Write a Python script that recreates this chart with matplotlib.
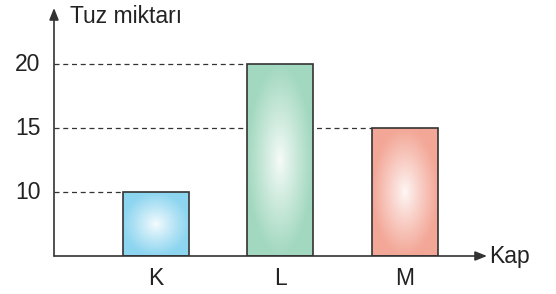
import numpy as np
import matplotlib.pyplot as plt
from matplotlib.patches import Rectangle
from matplotlib.colors import to_rgb

plt.rcParams['font.family'] = ['Liberation Sans', 'DejaVu Sans']

categories = ['K', 'L', 'M']
values = [10, 20, 15]
colors = ['#8dd5f0', '#a2d8bf', '#f3a797']
y_ticks = [10, 15, 20]
y_base = 5

W, H = 556, 294
fig = plt.figure(figsize=(W / 100, H / 100), dpi=100)
ax_l, ax_r, ax_b, ax_t = 54, 487, 256, 8
ax = fig.add_axes([ax_l / W, (H - ax_b) / H, (ax_r - ax_l) / W, (ax_b - ax_t) / H])

x = np.arange(len(categories))
xmin, xmax = -0.82, 2.66
ymax = 24.4
bw = 0.53

# dashed guide lines, bars drawn over them
for i, v in enumerate(values):
    ax.hlines(v, xmin, x[i] - bw / 2, colors='#333333', linestyles=(0, (4, 3)), lw=0.9, zorder=1)

# bars with radial gradient
yy, xx = np.mgrid[-1:1:200j, -1:1:200j]
r = np.clip(np.sqrt(xx ** 2 + yy ** 2), 0, 1)
for i, v in enumerate(values):
    c = np.array(to_rgb(colors[i]))
    t = 0.08 + 0.92 * r[..., None] ** 0.9
    img = (1 - t) * np.ones(3) + t * c
    x0, x1 = x[i] - bw / 2, x[i] + bw / 2
    im = ax.imshow(img, extent=[x0, x1, y_base, v], aspect='auto', zorder=2, interpolation='bilinear')
    rect = Rectangle((x0, y_base), bw, v - y_base, fill=False, ec='#333333', lw=1.2, zorder=3)
    ax.add_patch(rect)
    im.set_clip_path(rect)

ax.set_xlim(xmin, xmax)
ax.set_ylim(y_base, ymax)

for s in ['top', 'right', 'left', 'bottom']:
    ax.spines[s].set_visible(False)
ax.set_xticks([])
ax.set_yticks([])

# axes with arrows
arrow = dict(arrowstyle='-|>,head_length=0.7,head_width=0.28', color='#333333', lw=1.2,
             shrinkA=0, shrinkB=0)
ax.annotate('', xy=(xmax, y_base), xytext=(xmin, y_base), arrowprops=arrow,
            annotation_clip=False, zorder=4)
ax.annotate('', xy=(xmin, ymax), xytext=(xmin, y_base), arrowprops=arrow,
            annotation_clip=False, zorder=4)

fs = 16.5
for v in y_ticks:
    ax.text(xmin - 0.11, v, str(v), ha='right', va='center', fontsize=fs, color='#222222')
for i, c in enumerate(categories):
    ax.text(x[i], y_base - 1.75, c, ha='center', va='center', fontsize=fs, color='#222222')

ax.text(xmin + 0.13, ymax - 0.7, 'Tuz miktarı', ha='left', va='center', fontsize=fs, color='#222222')
ax.text(xmax + 0.02, y_base, 'Kap', ha='left', va='center', fontsize=fs, color='#222222')

fig.savefig('out.png', dpi=100)
